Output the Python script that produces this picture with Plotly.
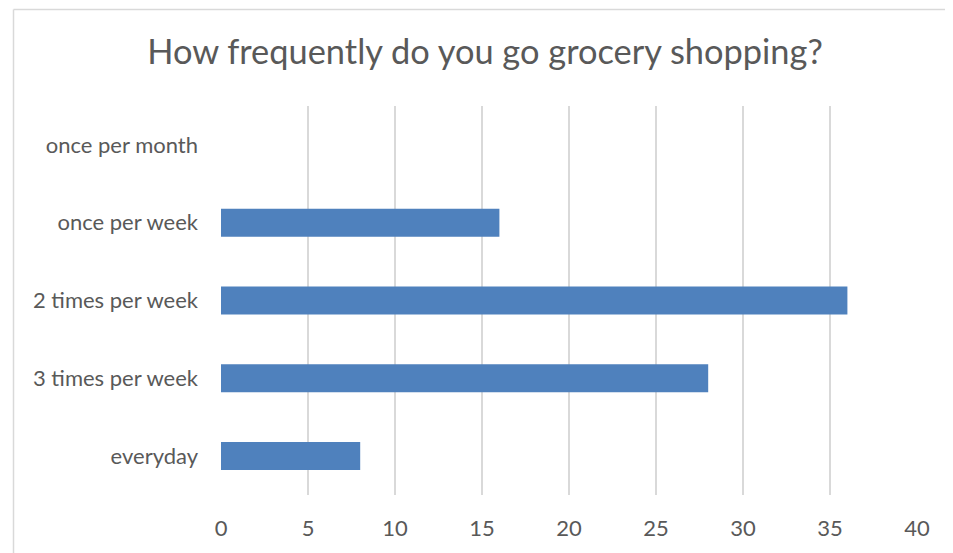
import plotly.graph_objects as go

categories = ["everyday", "3 times per week", "2 times per week", "once per week", "once per month"]
counts = [8, 28, 36, 16, 0]
x_ticks = [0, 5, 10, 15, 20, 25, 30, 35, 40]

OFF = 8  # page body margin offset
W, H = 953 - OFF, 553 - OFF
L, R, T, B = 221 - OFF, 36, 106 - OFF, 55
pw, ph = W - L - R, H - T - B

fig = go.Figure(go.Bar(
    y=categories, x=counts, orientation="h",
    marker=dict(color="#4F81BD", line=dict(width=0)),
    width=0.36,
))

border_x = (13.5 - OFF - L) / pw
border_top = 1 + (T - 0.75) / ph
border_bot = -B / ph - 0.01
border_right = 1 + R / pw + 0.01

fig.update_layout(
    width=W, height=H,
    margin=dict(l=L, r=R, t=T, b=B),
    paper_bgcolor="white", plot_bgcolor="white",
    font=dict(family="Lato, Open Sans, sans-serif", color="#595959", size=22),
    title=dict(text="How frequently do you go grocery shopping?",
               x=(485 - OFF) / W, xanchor="center", y=1 - (52 - OFF) / H, yanchor="middle",
               font=dict(size=34.4, color="#595959")),
    showlegend=False,
    xaxis=dict(range=[0, 40], tickvals=x_ticks, showgrid=True, gridcolor="#D9D9D9",
               gridwidth=1.5, zeroline=False, showline=False, ticks="",
               ticklabelstandoff=18, tickfont=dict(size=22, color="#595959"), fixedrange=True),
    yaxis=dict(categoryorder="array", categoryarray=categories, showgrid=False,
               zeroline=False, showline=False, ticks="", ticklabelstandoff=22,
               tickfont=dict(size=22, color="#595959"), fixedrange=True),
    shapes=[
        dict(type="line", xref="paper", yref="paper",
             x0=border_x, x1=border_right, y0=border_top, y1=border_top,
             line=dict(color="#D9D9D9", width=1.5), layer="below"),
        dict(type="line", xref="paper", yref="paper",
             x0=border_x, x1=border_x, y0=border_bot, y1=border_top,
             line=dict(color="#D9D9D9", width=1.5), layer="below"),
    ],
)

fig.write_html("out.html")
